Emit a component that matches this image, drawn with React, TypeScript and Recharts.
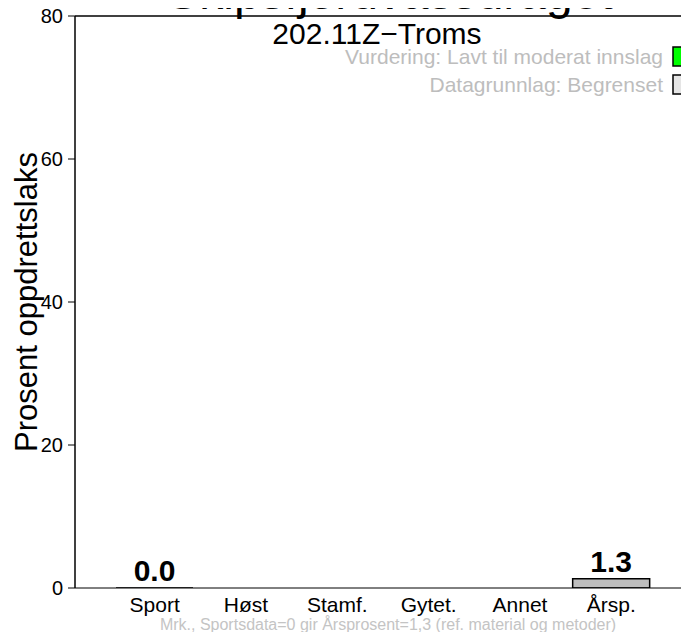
import React from 'react';
import { BarChart, Bar, XAxis, YAxis, LabelList, ReferenceLine } from 'recharts';

const categories = ['Sport', 'Høst', 'Stamf.', 'Gytet.', 'Annet', 'Årsp.'];
const values: (number | null)[] = [0.0, null, null, null, null, 1.3];
const valueLabels = ['0.0', '', '', '', '', '1.3'];
const yTicks = [0, 20, 40, 60, 80];

const titleText = 'Skipsfjordvassdraget';
const subtitleText = '202.11Z\u2212Troms';
const legendItems = [
  { text: 'Vurdering: Lavt til moderat innslag', color: '#00ff00' },
  { text: 'Datagrunnlag: Begrenset', color: '#e5e5e5' },
];
const yLabelText = 'Prosent oppdrettslaks';
const noteText = 'Mrk., Sportsdata=0 gir Årsprosent=1,3 (ref. material og metoder)';

const data = categories.map((c, i) => ({ cat: c, v: values[i], lbl: valueLabels[i] }));

const FONT = '"Liberation Sans", Arial, Helvetica, sans-serif';

const BarShape = (props: any) => {
  const { x, y, width, height, payload } = props;
  if (payload == null || payload.v == null) return null;
  const h = Math.max(0, height || 0);
  const d = `M${x},${y} h${width} v${h} h${-width} Z`;
  return <path d={d} fill="#bebebe" stroke="#000" strokeWidth={1.5} />;
};

const XTick = (props: any) => {
  const { x, payload } = props;
  return (
    <text x={x} y={612} textAnchor="middle" fontSize={21} fontFamily={FONT} fill="#000">
      {payload.value}
    </text>
  );
};

export default function App() {
  return (
    <div style={{ position: 'relative', width: 689, height: 632, margin: '-8px 0 0 -8px' }}>
      <BarChart
        width={689}
        height={632}
        data={data}
        margin={{ top: 16, right: 0, bottom: 0, left: 0 }}
      >
        <XAxis
          dataKey="cat"
          height={44}
          axisLine={false}
          tickLine={false}
          tick={<XTick />}
          interval={0}
          padding={{ left: 34, right: 32 }}
        />
        <YAxis
          width={75}
          domain={[0, 80]}
          ticks={yTicks}
          interval={0}
          axisLine={{ stroke: '#000', strokeWidth: 1.5 }}
          tickLine={{ stroke: '#000', strokeWidth: 1 }}
          tickSize={7}
          tickMargin={5}
          tick={{ fontSize: 20, fontFamily: FONT, fill: '#000' }}
          allowDataOverflow
        />
        <ReferenceLine y={0} stroke="#000" strokeWidth={1} ifOverflow="extendDomain" />
        <ReferenceLine y={80} stroke="#000" strokeWidth={1.5} />
        <Bar dataKey="v" barSize={77} shape={<BarShape />} isAnimationActive={false}>
          <LabelList
            dataKey="lbl"
            position="top"
            offset={7}
            style={{ fontSize: 30, fontWeight: 'bold', fontFamily: FONT, fill: '#000' }}
          />
        </Bar>
      </BarChart>
      <svg
        width={689}
        height={632}
        style={{ position: 'absolute', left: 0, top: 0, pointerEvents: 'none' }}
      >
        <text x={390} y={9} textAnchor="middle" fontSize={48} fontFamily={FONT} fill="#000">
          {titleText}
        </text>
        <text x={377} y={44} textAnchor="middle" fontSize={30} fontFamily={FONT} fill="#000">
          {subtitleText}
        </text>
        {legendItems.map((it, i) => (
          <g key={it.text}>
            <text
              x={663}
              y={64 + i * 28}
              textAnchor="end"
              fontSize={21}
              fontFamily={FONT}
              fill="#bdbdbd"
            >
              {it.text}
            </text>
            <rect x={673} y={47 + i * 28} width={20} height={19} fill={it.color} stroke="#000" strokeWidth={1.5} />
          </g>
        ))}
        <text
          x={37}
          y={302}
          transform="rotate(-90, 37, 302)"
          textAnchor="middle"
          fontSize={31}
          fontFamily={FONT}
          fill="#000"
        >
          {yLabelText}
        </text>
        <text x={388} y={630} textAnchor="middle" fontSize={16} fontFamily={FONT} fill="#c4c4c4">
          {noteText}
        </text>
      </svg>
    </div>
  );
}
